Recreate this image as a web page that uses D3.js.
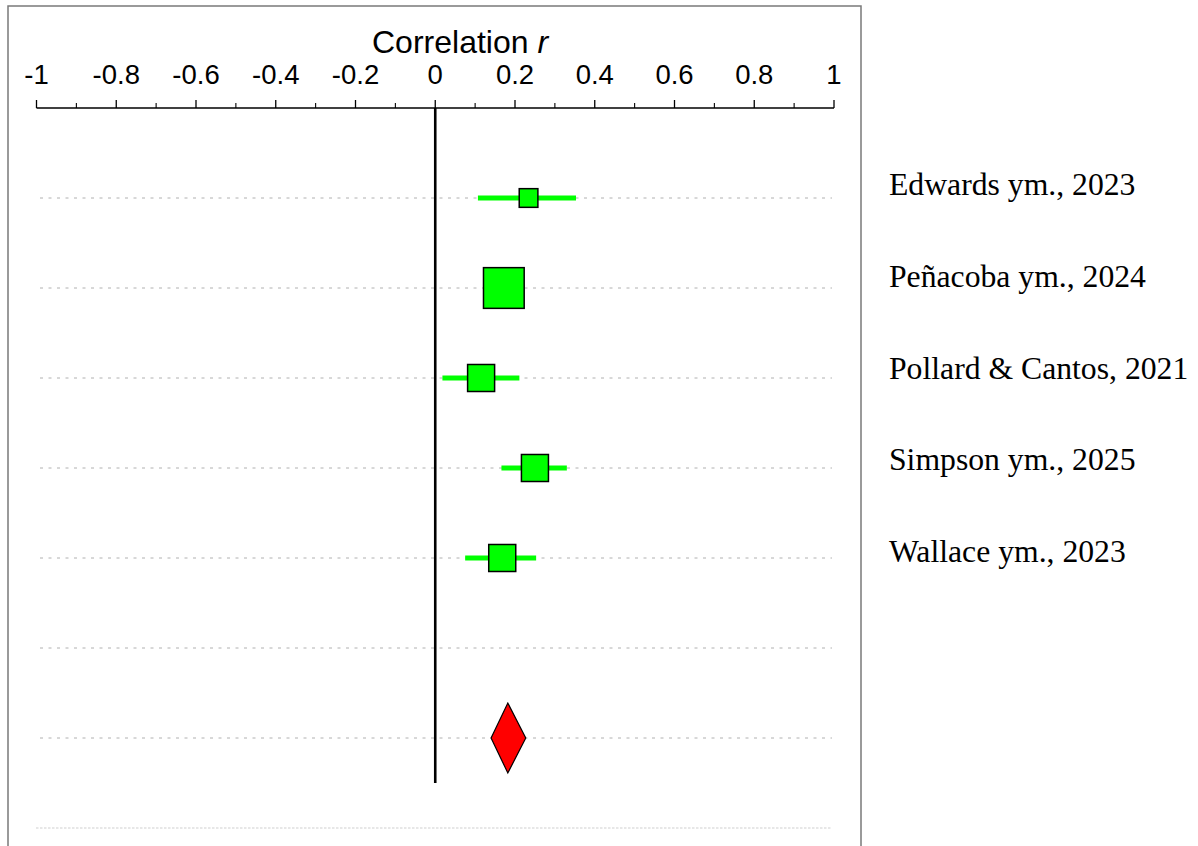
<!DOCTYPE html>
<html>
<head>
<meta charset="utf-8">
<script src="https://cdn.jsdelivr.net/npm/d3@7"></script>
<style>
  body { margin: 0; background: #fff; }
  svg { display: block; }
</style>
</head>
<body>
<div id="forest_plot"></div>
<script>
// study data (correlation r with 95% CI)
var studies = ["Edwards ym., 2023", "Peñacoba ym., 2024", "Pollard & Cantos, 2021", "Simpson ym., 2025", "Wallace ym., 2023"];
var estimates = [0.234, 0.172, 0.115, 0.250, 0.168];
var lower = [0.107, 0.135, 0.018, 0.166, 0.075];
var upper = [0.353, 0.210, 0.211, 0.330, 0.253];
var weights = [8.3, 39.5, 17.4, 17.4, 17.4];

// pooled estimate
var pooled = { est: 0.182, lo: 0.140, hi: 0.227 };

var majorTicks = [-1, -0.8, -0.6, -0.4, -0.2, 0, 0.2, 0.4, 0.6, 0.8, 1];
var minorTicks = [-0.9, -0.7, -0.5, -0.3, -0.1, 0.1, 0.3, 0.5, 0.7, 0.9];

var width = 1198;
var height = 846;
var nRows = 8; // 5 studies, blank, pooled, blank

var svg = d3.select("#forest_plot").append("svg")
    .attr("width", width)
    .attr("height", height);

var x = d3.scaleLinear()
    .domain([-1, 1])
    .range([36.5, 834]);
var y = d3.scaleLinear()
    .domain([0, nRows - 1])
    .range([198, 828]);
var labelY = d3.scaleLinear()
    .domain([0, studies.length - 1])
    .range([195, 562]);
var side = d3.scaleSqrt()
    .domain([0, d3.max(weights)])
    .range([0, 40.7]);

// frame
svg.append("path")
    .attr("d", "M8," + height + "V6H861V" + height)
    .attr("fill", "none")
    .attr("stroke", "#7a7a7a")
    .attr("stroke-width", 1.5);

// row guide lines
svg.append("g").selectAll("line")
    .data(d3.range(nRows))
    .enter()
    .append("line")
    .attr("x1", function (d) { return d === nRows - 1 ? 36 : 40; })
    .attr("x2", 832)
    .attr("y1", function (d) { return y(d); })
    .attr("y2", function (d) { return y(d); })
    .attr("stroke", function (d) { return d === nRows - 1 ? "#cfcfcf" : "#b0b0b0"; })
    .attr("stroke-width", 1)
    .attr("stroke-dasharray", function (d) { return d === nRows - 1 ? "2.5,1.5" : "3,5.5"; });

// top axis
var axisY = 108;
var axis = svg.append("g");
axis.append("line")
    .attr("x1", x(-1))
    .attr("x2", x(1))
    .attr("y1", axisY)
    .attr("y2", axisY)
    .attr("stroke", "#000")
    .attr("stroke-width", 1.3);
axis.selectAll("line.major")
    .data(majorTicks)
    .enter()
    .append("line")
    .attr("class", "major")
    .attr("x1", function (d) { return x(d); })
    .attr("x2", function (d) { return x(d); })
    .attr("y1", axisY - 8)
    .attr("y2", axisY)
    .attr("stroke", "#000")
    .attr("stroke-width", 1.3);
axis.selectAll("line.minor")
    .data(minorTicks)
    .enter()
    .append("line")
    .attr("class", "minor")
    .attr("x1", function (d) { return x(d); })
    .attr("x2", function (d) { return x(d); })
    .attr("y1", axisY - 5)
    .attr("y2", axisY)
    .attr("stroke", "#000")
    .attr("stroke-width", 1.1);
axis.selectAll("text")
    .data(majorTicks)
    .enter()
    .append("text")
    .attr("x", function (d) { return x(d); })
    .attr("y", 83.5)
    .attr("text-anchor", "middle")
    .attr("font-family", "Liberation Sans, Arial, sans-serif")
    .attr("font-size", 27.5)
    .text(function (d) { return d3.format("")(d).replace("−", "-"); });

// axis title
var title = svg.append("text")
    .attr("x", 372)
    .attr("y", 53)
    .attr("font-family", "Liberation Sans, Arial, sans-serif")
    .attr("font-size", 32);
title.append("tspan").text("Correlation ");
title.append("tspan").attr("font-style", "italic").text("r");

// zero line
svg.append("line")
    .attr("x1", x(0))
    .attr("x2", x(0))
    .attr("y1", axisY)
    .attr("y2", 783)
    .attr("stroke", "#000")
    .attr("stroke-width", 2.6);

// confidence intervals
svg.append("g").selectAll("line")
    .data(studies)
    .enter()
    .append("line")
    .attr("x1", function (d, i) { return x(lower[i]); })
    .attr("x2", function (d, i) { return x(upper[i]); })
    .attr("y1", function (d, i) { return y(i); })
    .attr("y2", function (d, i) { return y(i); })
    .attr("stroke", "#00ff00")
    .attr("stroke-width", 5);

// weighted squares
svg.append("g").selectAll("rect")
    .data(studies)
    .enter()
    .append("rect")
    .attr("x", function (d, i) { return x(estimates[i]) - side(weights[i]) / 2; })
    .attr("y", function (d, i) { return y(i) - side(weights[i]) / 2; })
    .attr("width", function (d, i) { return side(weights[i]); })
    .attr("height", function (d, i) { return side(weights[i]); })
    .attr("fill", "#00ff00")
    .attr("stroke", "#000")
    .attr("stroke-width", 1.5);

// pooled diamond
var py = y(6);
svg.append("path")
    .attr("d", "M" + x(pooled.lo) + "," + py +
        "L" + x(pooled.est) + "," + (py - 35) +
        "L" + x(pooled.hi) + "," + py +
        "L" + x(pooled.est) + "," + (py + 35) + "Z")
    .attr("fill", "#ff0000")
    .attr("stroke", "#000")
    .attr("stroke-width", 1.2);

// study labels
svg.append("g").selectAll("text")
    .data(studies)
    .enter()
    .append("text")
    .attr("x", 889)
    .attr("y", function (d, i) { return labelY(i); })
    .attr("font-family", "Liberation Serif, Times New Roman, serif")
    .attr("font-size", 31.7)
    .attr("fill", "#000")
    .text(function (d) { return d; });
</script>
</body>
</html>
